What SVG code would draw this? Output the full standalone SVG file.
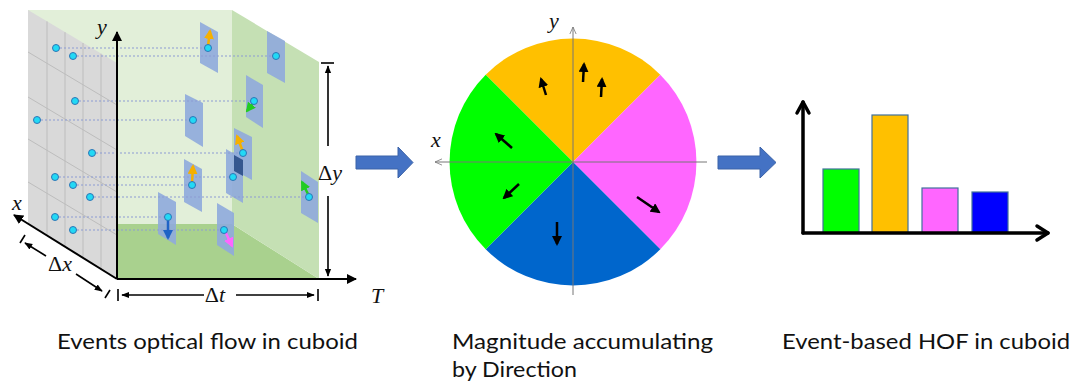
<svg xmlns="http://www.w3.org/2000/svg" width="1077" height="382" viewBox="0 0 1077 382">
<style>
.cap{font-family:Lato,"Noto Sans",sans-serif;font-size:22px;fill:#111}
.math{font-family:"Liberation Serif","DejaVu Serif",serif;font-size:22px;fill:#111}
.it{font-style:italic}
.grid{stroke:#bdbdbd;stroke-width:1;fill:none}
.dash{stroke:#8c9bd3;stroke-width:1;stroke-dasharray:2 2;fill:none}
.plane{fill:#8faadc;fill-opacity:0.9}
.dot{fill:#22d9f5;stroke:#2e75b6;stroke-width:1}
.ax{stroke:#000;stroke-width:2;fill:none}
.dim{stroke:#000;stroke-width:1.6;fill:none}
.cax{stroke:#777;stroke-width:1;fill:none}
.barx{stroke:#000;stroke-width:3.5;fill:none;stroke-linecap:round;stroke-linejoin:round}
.bar{stroke:#41719c;stroke-width:1.2}
.blk{stroke:#000;stroke-width:2.5;fill:none}
.bigarrow{fill:#4472c4;stroke:#3a62a8;stroke-width:1}
</style>
<defs>
<marker id="mAx" viewBox="0 0 10 10" refX="9" refY="5" markerWidth="5" markerHeight="5" orient="auto-start-reverse"><path d="M0,0 L10,5 L0,10 z" fill="#000"/></marker>
<marker id="mDim" viewBox="0 0 10 10" refX="9" refY="5" markerWidth="5" markerHeight="5" orient="auto-start-reverse"><path d="M0,1 L10,5 L0,9 z" fill="#000"/></marker>
<marker id="mOpen" viewBox="0 0 10 10" refX="9" refY="5" markerWidth="8" markerHeight="8" orient="auto-start-reverse" markerUnits="userSpaceOnUse"><path d="M0,1 L9,5 L0,9" fill="none" stroke="#777" stroke-width="1"/></marker>
<marker id="mBlk" viewBox="0 0 10 10" refX="8" refY="5" markerWidth="4" markerHeight="4" orient="auto"><path d="M0,0 L10,5 L0,10 z" fill="#000"/></marker>
<marker id="mOr" viewBox="0 0 10 10" refX="8" refY="5" markerWidth="4" markerHeight="4" orient="auto"><path d="M0,0 L10,5 L0,10 z" fill="#f5b000"/></marker>
<marker id="mGr" viewBox="0 0 10 10" refX="8" refY="5" markerWidth="4" markerHeight="4" orient="auto"><path d="M0,0 L10,5 L0,10 z" fill="#22cc22"/></marker>
<marker id="mBl" viewBox="0 0 10 10" refX="8" refY="5" markerWidth="4" markerHeight="4" orient="auto"><path d="M0,0 L10,5 L0,10 z" fill="#1f63c6"/></marker>
<marker id="mPk" viewBox="0 0 10 10" refX="8" refY="5" markerWidth="4" markerHeight="4" orient="auto"><path d="M0,0 L10,5 L0,10 z" fill="#ff66ff"/></marker>
</defs>
<rect width="1077" height="382" fill="#fff"/>

<!-- Panel 1: cuboid -->
<g id="cuboid">
  <rect x="28" y="10" width="204" height="214" fill="#e2efd9"/>
  <polygon points="117,224 232,224 319,279 117,279" fill="#a9d18e"/>
  <polygon points="232,10 319,62 319,279 232,224" fill="#c5e0b4"/>
  <polygon points="28,10 117,63 117,279 28,224" fill="#d9d9d9"/>
  <g class="grid">
    <line x1="47" y1="21.4" x2="47" y2="235.7"/>
    <line x1="65" y1="32.2" x2="65" y2="246.8"/>
    <line x1="83" y1="43" x2="83" y2="257.8"/>
    <line x1="101" y1="53.8" x2="101" y2="268.9"/>
    <line x1="28" y1="52" x2="117" y2="105"/>
    <line x1="28" y1="97" x2="117" y2="150"/>
    <line x1="28" y1="139" x2="117" y2="192"/>
    <line x1="28" y1="182" x2="117" y2="235"/>
  </g>
</g>

<g id="planes">
  <polygon class="plane" points="200,22 218,32 218,73 200,63"/>
  <polygon class="plane" points="267,31 285,41 285,83 267,73"/>
  <polygon class="plane" points="246,75 263,85 263,128 246,117"/>
  <polygon class="plane" points="185,94 203,103 203,147 185,136"/>
  <polygon class="plane" points="226,149 243,159 243,203 226,193"/>
  <polygon class="plane" points="234,128 252,137 252,180 234,170"/>
  <polygon points="234,155 243,160 243,176 234,171" fill="#35578f"/>
  <polygon class="plane" points="184,159 202,169 202,212 184,202"/>
  <polygon class="plane" points="301,171 318,182 318,223 301,213"/>
  <polygon class="plane" points="158,192 176,202 176,245 158,234"/>
  <polygon class="plane" points="217,203 234,213 234,256 217,245"/>
</g>

<g id="projections">
  <line class="dash" x1="56" y1="48" x2="208" y2="48"/>
  <line class="dash" x1="73" y1="56" x2="276" y2="56"/>
  <line class="dash" x1="75" y1="101" x2="254" y2="101"/>
  <line class="dash" x1="37" y1="120" x2="193" y2="120"/>
  <line class="dash" x1="92" y1="153" x2="243" y2="153"/>
  <line class="dash" x1="55" y1="177" x2="233" y2="177"/>
  <line class="dash" x1="73" y1="185" x2="192" y2="185"/>
  <line class="dash" x1="90" y1="197" x2="309" y2="197"/>
  <line class="dash" x1="55" y1="217" x2="168" y2="217"/>
  <line class="dash" x1="73" y1="230" x2="224" y2="230"/>
</g>

<g id="flow-arrows" stroke-width="2.5" fill="none">
  <line x1="208" y1="46" x2="210" y2="31" stroke="#f5b000" marker-end="url(#mOr)"/>
  <line x1="254" y1="102" x2="247" y2="111" stroke="#22cc22" marker-end="url(#mGr)"/>
  <line x1="243" y1="152" x2="237" y2="136" stroke="#f5b000" marker-end="url(#mOr)"/>
  <line x1="192" y1="183" x2="193" y2="166" stroke="#f5b000" marker-end="url(#mOr)"/>
  <line x1="309" y1="196" x2="302" y2="182" stroke="#22cc22" marker-end="url(#mGr)"/>
  <line x1="168" y1="218" x2="168" y2="238" stroke="#1f63c6" marker-end="url(#mBl)"/>
  <line x1="225" y1="231" x2="232" y2="246" stroke="#ff66ff" marker-end="url(#mPk)"/>
</g>

<g id="events">
  <circle class="dot" cx="56" cy="48" r="3.5"/>
  <circle class="dot" cx="73" cy="56" r="3.5"/>
  <circle class="dot" cx="75" cy="101" r="3.5"/>
  <circle class="dot" cx="37" cy="120" r="3.5"/>
  <circle class="dot" cx="92" cy="153" r="3.5"/>
  <circle class="dot" cx="55" cy="177" r="3.5"/>
  <circle class="dot" cx="73" cy="185" r="3.5"/>
  <circle class="dot" cx="90" cy="197" r="3.5"/>
  <circle class="dot" cx="55" cy="217" r="3.5"/>
  <circle class="dot" cx="73" cy="230" r="3.5"/>
  <circle class="dot" cx="208" cy="48" r="3.5"/>
  <circle class="dot" cx="276" cy="56" r="3.5"/>
  <circle class="dot" cx="254" cy="101" r="3.5"/>
  <circle class="dot" cx="193" cy="120" r="3.5"/>
  <circle class="dot" cx="243" cy="153" r="3.5"/>
  <circle class="dot" cx="233" cy="177" r="3.5"/>
  <circle class="dot" cx="192" cy="185" r="3.5"/>
  <circle class="dot" cx="309" cy="197" r="3.5"/>
  <circle class="dot" cx="168" cy="217" r="3.5"/>
  <circle class="dot" cx="224" cy="230" r="3.5"/>
</g>

<g id="cuboid-axes">
  <line class="ax" x1="117" y1="279" x2="117" y2="32" marker-end="url(#mAx)"/>
  <line class="ax" x1="117" y1="279" x2="356" y2="279" marker-end="url(#mAx)"/>
  <line class="ax" x1="117" y1="279" x2="14" y2="215" marker-end="url(#mAx)"/>
  <text class="math it" x="102" y="34" text-anchor="middle">y</text>
  <text class="math it" x="17" y="210" text-anchor="middle">x</text>
  <text class="math it" x="377" y="303" text-anchor="middle">T</text>
</g>

<g id="dimensions">
  <line class="dim" x1="118" y1="289" x2="118" y2="301"/>
  <line class="dim" x1="318" y1="289" x2="318" y2="301"/>
  <line class="dim" x1="204" y1="295" x2="122" y2="295" marker-end="url(#mDim)"/>
  <line class="dim" x1="236" y1="295" x2="314" y2="295" marker-end="url(#mDim)"/>
  <text class="math" x="215" y="302" text-anchor="middle">Δ<tspan class="it">t</tspan></text>
  <line class="dim" x1="321" y1="63" x2="334" y2="63"/>
  <line class="dim" x1="328" y1="146" x2="328" y2="66" marker-end="url(#mDim)"/>
  <line class="dim" x1="328" y1="196" x2="328" y2="276" marker-end="url(#mDim)"/>
  <text class="math" x="330" y="180" text-anchor="middle">Δ<tspan class="it">y</tspan></text>
  <line class="dim" x1="20" y1="243" x2="25" y2="235"/>
  <line class="dim" x1="105" y1="298" x2="110" y2="290"/>
  <line class="dim" x1="46" y1="256" x2="25" y2="243" marker-end="url(#mDim)"/>
  <line class="dim" x1="76" y1="274" x2="102" y2="291" marker-end="url(#mDim)"/>
  <text class="math" x="60" y="271" text-anchor="middle">Δ<tspan class="it">x</tspan></text>
</g>

<g id="arrow1">
  <polygon class="bigarrow" points="356,156 398,156 398,147 413,162.5 398,178 398,169 356,169"/>
</g>

<!-- Panel 2: direction circle -->
<g id="direction-circle">
  <path d="M573,162 L485.7,74.7 A123.5,123.5 0 0 1 660.3,74.7 Z" fill="#ffc000"/>
  <path d="M573,162 L660.3,74.7 A123.5,123.5 0 0 1 660.3,249.3 Z" fill="#ff66ff"/>
  <path d="M573,162 L660.3,249.3 A123.5,123.5 0 0 1 485.7,249.3 Z" fill="#0066cc"/>
  <path d="M573,162 L485.7,249.3 A123.5,123.5 0 0 1 485.7,74.7 Z" fill="#00ff00"/>
  <line class="cax" x1="707" y1="162" x2="435" y2="162" marker-end="url(#mOpen)"/>
  <line class="cax" x1="573" y1="295" x2="573" y2="27" marker-end="url(#mOpen)"/>
  <text class="math it" x="554" y="28" text-anchor="middle" font-size="18">y</text>
  <text class="math it" x="436" y="147" text-anchor="middle" font-size="18">x</text>
</g>
<g id="circle-arrows">
  <line class="blk" x1="546" y1="95" x2="541" y2="79" marker-end="url(#mBlk)"/>
  <line class="blk" x1="583" y1="82" x2="584" y2="64" marker-end="url(#mBlk)"/>
  <line class="blk" x1="601" y1="97" x2="602" y2="79" marker-end="url(#mBlk)"/>
  <line class="blk" x1="512" y1="148" x2="496" y2="134" marker-end="url(#mBlk)"/>
  <line class="blk" x1="519" y1="184" x2="504" y2="198" marker-end="url(#mBlk)"/>
  <line class="blk" x1="557" y1="222" x2="557" y2="244" marker-end="url(#mBlk)"/>
  <line class="blk" x1="637" y1="197" x2="659" y2="212" marker-end="url(#mBlk)"/>
</g>

<g id="arrow2">
  <polygon class="bigarrow" points="718,156 760,156 760,147 776,162.5 760,178 760,169 718,169"/>
</g>

<!-- Panel 3: histogram -->
<g id="histogram">
  <rect class="bar" x="823" y="169" width="36" height="64" fill="#00ff00"/>
  <rect class="bar" x="872" y="115" width="36" height="118" fill="#ffc000"/>
  <rect class="bar" x="922" y="188" width="36" height="45" fill="#ff66ff"/>
  <rect class="bar" x="972" y="192" width="36" height="41" fill="#0000ff"/>
  <polyline class="barx" points="803,233 803,102"/>
  <polyline class="barx" points="797,113 803,102 809,113"/>
  <polyline class="barx" points="803,233 1048,233"/>
  <polyline class="barx" points="1037,226 1048,233 1037,240"/>
</g>

<g id="captions">
  <text class="cap" x="57" y="349" textLength="301" lengthAdjust="spacingAndGlyphs">Events optical flow in cuboid</text>
  <text class="cap"><tspan x="452" y="349" textLength="261" lengthAdjust="spacingAndGlyphs">Magnitude accumulating</tspan><tspan x="452" y="376.5" textLength="125" lengthAdjust="spacingAndGlyphs">by Direction</tspan></text>
  <text class="cap" x="782" y="349" textLength="288" lengthAdjust="spacingAndGlyphs">Event-based HOF in cuboid</text>
</g>
</svg>
